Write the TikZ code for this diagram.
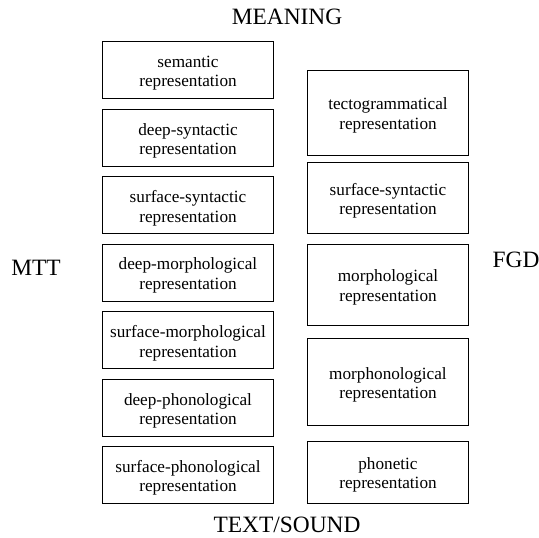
\documentclass[tikz,border=0pt]{standalone}
\usepackage{fontspec}
\setmainfont{Liberation Serif}
\usetikzlibrary{positioning}
\newcommand{\topstrut}{\rule{0pt}{17.5pt}}
\tikzset{
  levelbox/.style={
    rectangle,
    draw=black, line width=1pt,
    align=center,
    inner sep=0pt, outer sep=0pt,
    font=\fontsize{17.2}{19.7}\selectfont},
  mttbox/.style={levelbox, minimum width=171.4pt, minimum height=57pt},
  fgdbox/.style={levelbox, minimum width=161.4pt},
  pole/.style={font=\fontsize{23.4}{26}\selectfont, inner sep=0pt},
}
\begin{document}
\begin{tikzpicture}[x=1pt,y=-1pt]
	\useasboundingbox (0,0) rectangle (539,538);

	% MTT levels
	\foreach \name/\yc/\txt in {sem/70.2/semantic,
	                            dsynt/138/deep-syntactic,
	                            ssynt/205.35/surface-syntactic,
	                            dmorph/272.8/deep-morphological,
	                            smorph/340.35/surface-morphological,
	                            dphon/408/deep-phonological,
	                            sphon/475.15/surface-phonological}
		\node[mttbox] (mtt-\name) at (188,\yc) {\topstrut\txt\\representation};

	% FGD levels
	\node[fgdbox, minimum height=85pt]   (fgd-tecto)  at (388,112.8) {\topstrut tectogrammatical\\representation};
	\node[fgdbox, minimum height=70.6pt] (fgd-ssynt)  at (388,198)   {\topstrut surface-syntactic\\representation};
	\node[fgdbox, minimum height=80.7pt] (fgd-morph)  at (388,284.65) {\topstrut morphological\\representation};
	\node[fgdbox, minimum height=87.4pt] (fgd-mphon)  at (388,382)   {\topstrut morphonological\\representation};
	\node[fgdbox, minimum height=62pt]   (fgd-phon)   at (388,472)   {\topstrut phonetic\\representation};

	\node[pole] (meaning) at (287,16.5)  {MEANING};
	\node[pole] (text)    at (287,525)   {TEXT/SOUND};
	\node[pole] (mtt)     at (36,268)    {MTT};
	\node[pole] (fgd)     at (516,260)   {FGD};

\end{tikzpicture}
\end{document}
